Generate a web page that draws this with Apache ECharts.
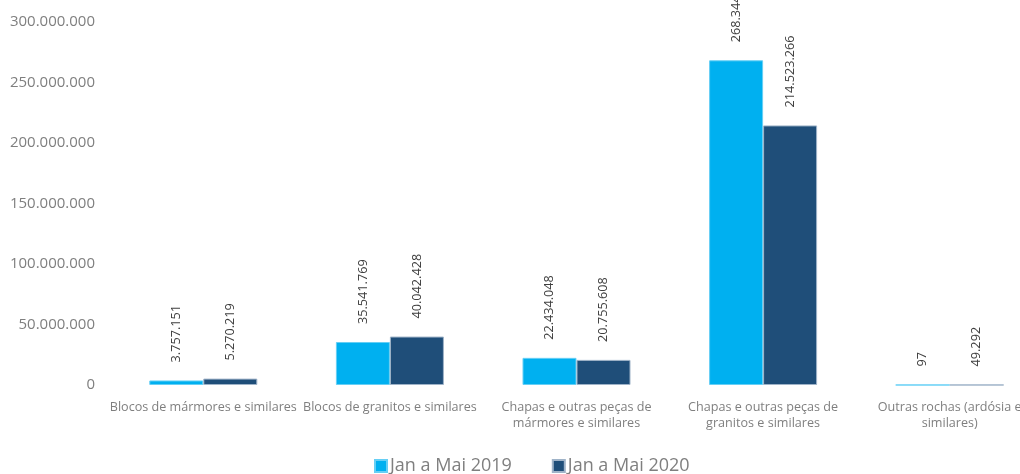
<!DOCTYPE html>
<html><head><meta charset="utf-8">
<script src="https://cdn.jsdelivr.net/npm/echarts@6/dist/echarts.min.js"></script>
<style>html,body{margin:0;padding:0;background:#fff;overflow:hidden}#c{width:1043px;height:474px}</style>
</head><body><div id="c"></div>
<script>
const categories = [
  "Blocos de mármores e similares",
  "Blocos de granitos e similares",
  "Chapas e outras peças de\nmármores e similares",
  "Chapas e outras peças de\ngranitos e similares",
  "Outras rochas (ardósia e\nsimilares)"
];
const series2019 = [3757151, 35541769, 22434048, 268344000, 97];
const series2020 = [5270219, 40042428, 20755608, 214523266, 49292];
const seriesNames = ["Jan a Mai 2019", "Jan a Mai 2020"];
const yTicks = { min: 0, max: 300000000, interval: 50000000 };

function fmt(v) { return String(Math.round(v)).replace(/\B(?=(\d{3})+(?!\d))/g, "."); }
const FONT = "Open Sans";
const chart = echarts.init(document.getElementById('c'));
const labelCfg = {
  show: true, position: 'top', rotate: 90, distance: 18,
  align: 'left', verticalAlign: 'middle',
  color: '#404040', fontSize: 12.7, fontFamily: FONT,
  formatter: p => fmt(p.value)
};
chart.setOption({
  animation: false,
  textStyle: { fontFamily: FONT },
  grid: { left: 110, top: 22, right: 0, bottom: 89, containLabel: false },
  legend: {
    bottom: -6, left: 369, itemWidth: 12, itemHeight: 12, itemGap: 40,
    icon: 'rect',
    textStyle: { color: '#7f7f7f', fontSize: 18, fontFamily: FONT, padding: [0, 0, 0, -2] },
    data: seriesNames
  },
  xAxis: {
    type: 'category', data: categories,
    axisLine: { show: false }, axisTick: { show: false },
    axisLabel: { interval: 0, color: '#7f7f7f', fontSize: 12.6, fontFamily: FONT, margin: 14, lineHeight: 16 }
  },
  yAxis: {
    type: 'value', min: yTicks.min, max: yTicks.max, interval: yTicks.interval,
    splitLine: { show: false }, axisLine: { show: false }, axisTick: { show: false },
    axisLabel: { color: '#7f7f7f', fontSize: 15, fontFamily: FONT, margin: 15, formatter: v => fmt(v) }
  },
  series: [
    { name: seriesNames[0], type: 'bar', data: series2019, barWidth: 54, barGap: '0%',
      itemStyle: { color: '#00B0F0', borderColor: '#66cff5', borderWidth: 1 }, label: labelCfg },
    { name: seriesNames[1], type: 'bar', data: series2020, barWidth: 54, barGap: '0%',
      itemStyle: { color: '#1F4E79', borderColor: '#9fb3c8', borderWidth: 1 }, label: labelCfg }
  ]
});
</script></body></html>
